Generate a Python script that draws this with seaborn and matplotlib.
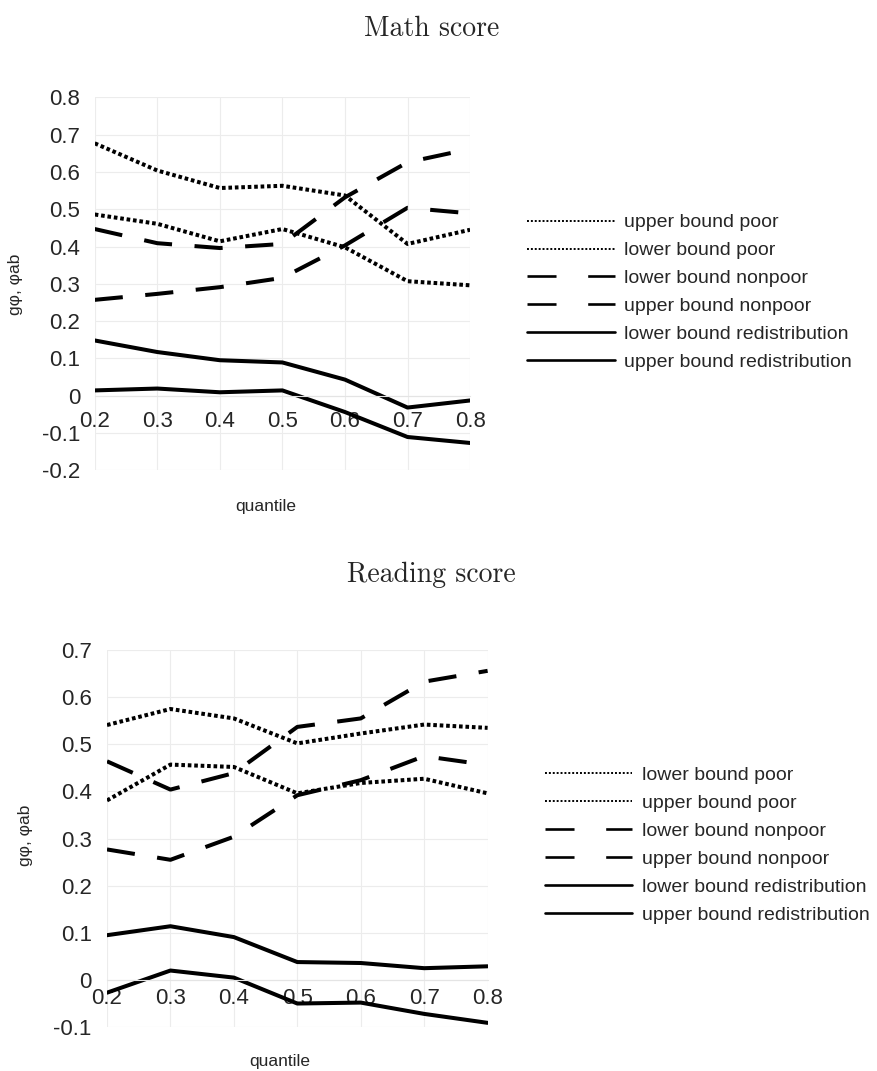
import numpy as np
import matplotlib
matplotlib.use("Agg")
import matplotlib.pyplot as plt
import seaborn as sns
from matplotlib.lines import Line2D

sns.set_style("white")
plt.rcParams["font.family"] = ["Liberation Sans", "DejaVu Sans"]

quantiles = [0.2, 0.3, 0.4, 0.5, 0.6, 0.7, 0.8]

# Math score
math_poor_a = [0.677, 0.604, 0.557, 0.563, 0.537, 0.407, 0.445]
math_poor_b = [0.486, 0.461, 0.414, 0.447, 0.398, 0.307, 0.296]
math_nonpoor_a = [0.447, 0.409, 0.396, 0.407, 0.532, 0.626, 0.662]
math_nonpoor_b = [0.257, 0.273, 0.291, 0.316, 0.403, 0.504, 0.489]
math_redis_a = [0.148, 0.117, 0.095, 0.089, 0.043, -0.032, -0.013]
math_redis_b = [0.014, 0.019, 0.009, 0.014, -0.044, -0.111, -0.127]
math_labels = ["upper bound poor", "lower bound poor", "lower bound nonpoor",
               "upper bound nonpoor", "lower bound redistribution", "upper bound redistribution"]

# Reading score
read_poor_a = [0.541, 0.575, 0.555, 0.502, 0.523, 0.542, 0.535]
read_poor_b = [0.381, 0.457, 0.452, 0.396, 0.418, 0.427, 0.396]
read_nonpoor_a = [0.464, 0.404, 0.439, 0.537, 0.555, 0.633, 0.656]
read_nonpoor_b = [0.277, 0.255, 0.304, 0.392, 0.424, 0.475, 0.456]
read_redis_a = [0.095, 0.114, 0.091, 0.038, 0.036, 0.025, 0.029]
read_redis_b = [-0.027, 0.020, 0.005, -0.050, -0.048, -0.072, -0.091]
read_labels = ["lower bound poor", "upper bound poor", "lower bound nonpoor",
               "upper bound nonpoor", "lower bound redistribution", "upper bound redistribution"]

math_yticks = [-0.2, -0.1, 0, 0.1, 0.2, 0.3, 0.4, 0.5, 0.6, 0.7, 0.8]
read_yticks = [-0.1, 0, 0.1, 0.2, 0.3, 0.4, 0.5, 0.6, 0.7]

DOT = (0, (0.9, 0.7))
DASH = (0, (7.0, 5.6))
STYLES = [DOT, DOT, DASH, DASH, "-", "-"]
LEG_STYLES = [(0, (1, 1)), (0, (1, 1)), (0, (11, 12)), (0, (11, 12)), "-", "-"]
LEG_LW = [1.4, 1.4, 1.9, 1.9, 1.9, 1.9]


def draw_panel(ax, series, yticks, xpad, ypad):
    for vals, ls in zip(series, STYLES):
        sns.lineplot(x=quantiles, y=vals, ax=ax, color="black", lw=2.9,
                     linestyle=ls, dash_capstyle="butt", legend=False)
    for s in ["top", "right", "left"]:
        ax.spines[s].set_visible(False)
    ax.spines["bottom"].set_position(("data", 0))
    ax.spines["bottom"].set_color("#e4e4e4")
    ax.spines["bottom"].set_linewidth(0.8)
    ax.set_xlim(0.2, 0.8)
    ax.set_ylim(yticks[0], yticks[-1])
    ax.set_yticks(yticks)
    ax.set_yticklabels([f"{v:g}" for v in yticks], fontsize=16)
    ax.set_xticks(quantiles)
    ax.set_xticklabels([f"{q:g}" for q in quantiles], fontsize=16)
    ax.grid(True, color="#ececec", lw=0.8)
    ax.tick_params(axis="x", length=0, pad=xpad)
    ax.tick_params(axis="y", length=0, pad=ypad)
    ax.set_xlabel("quantile", fontsize=12.5)
    ax.set_ylabel("gφ, φab", fontsize=12.5)
    ax.set_axisbelow(True)


def add_legend(fig, labels, x, y):
    handles = [Line2D([], [], color="black", lw=lw, linestyle=ls, dash_capstyle="butt")
               for ls, lw in zip(LEG_STYLES, LEG_LW)]
    fig.legend(handles, labels, loc="center left", bbox_to_anchor=(x, y),
               frameon=False, fontsize=14, handlelength=4.5, handletextpad=0.5,
               labelspacing=0.53, borderpad=0, borderaxespad=0)


fig = plt.figure(figsize=(8.77, 10.71), dpi=100)

ax1 = fig.add_axes([0.108, 0.561, 0.428, 0.348])
draw_panel(ax1, [math_poor_a, math_poor_b, math_nonpoor_a, math_nonpoor_b,
                 math_redis_a, math_redis_b], math_yticks, xpad=11, ypad=10.5)
ax1.xaxis.set_label_coords(0.456, -0.078)
ax1.yaxis.set_label_coords(-0.19, 0.5)
add_legend(fig, math_labels, 0.601, 0.727)
fig.text(0.492, 0.966, "Math score", fontsize=20, family="cmr10", ha="center", va="baseline")

ax2 = fig.add_axes([0.122, 0.041, 0.434, 0.352])
draw_panel(ax2, [read_poor_a, read_poor_b, read_nonpoor_a, read_nonpoor_b,
                 read_redis_a, read_redis_b], read_yticks, xpad=6, ypad=11)
ax2.xaxis.set_label_coords(0.454, -0.072)
ax2.yaxis.set_label_coords(-0.194, 0.51)
add_legend(fig, read_labels, 0.621, 0.211)
fig.text(0.492, 0.4566, "Reading score", fontsize=20, family="cmr10", ha="center", va="baseline")

fig.savefig("out.png", dpi=100)
